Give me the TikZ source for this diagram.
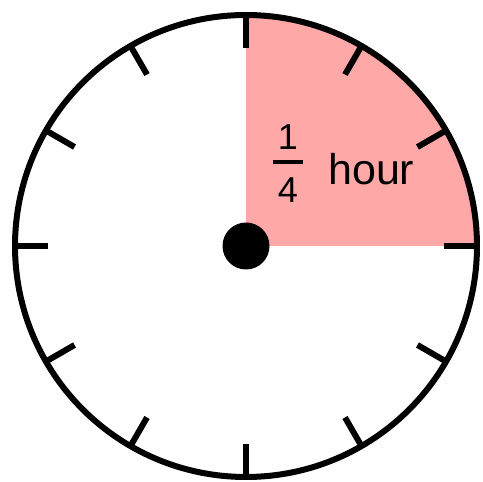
\documentclass[tikz,border=0pt]{standalone}
\usepackage{fontspec}
\setmainfont{Liberation Sans}
\usetikzlibrary{calc}
\definecolor{quarterpink}{RGB}{255,168,168}
\begin{document}
\begin{tikzpicture}[x=1pt,y=1pt,
  rim/.style={line width=6pt},
  tick/.style={line width=6pt},
  lbl/.style={inner sep=0pt,anchor=base},
]
\useasboundingbox (0,0) rectangle (483,482);
\coordinate (c) at (246,236);
\fill[quarterpink] (c) -- ++(231,0) arc[start angle=0,end angle=90,radius=231] -- cycle;
\draw[rim] (c) circle[radius=231];
\foreach \a in {0,30,...,330}{
  \draw[tick] ($(c)+(\a:198)$) -- ($(c)+(\a:233)$);
}
\fill (c) circle[radius=23.5];
\node[lbl] (one) at (288,332) {\fontsize{36}{36}\selectfont 1};
\node[lbl] (four) at (288,279) {\fontsize{36}{36}\selectfont 4};
\draw[line width=4.5pt] (273,320) -- (303,320);
\node[lbl,anchor=base west] (hour) at (328,297) {\fontsize{43}{43}\selectfont hour};
\end{tikzpicture}
\end{document}
